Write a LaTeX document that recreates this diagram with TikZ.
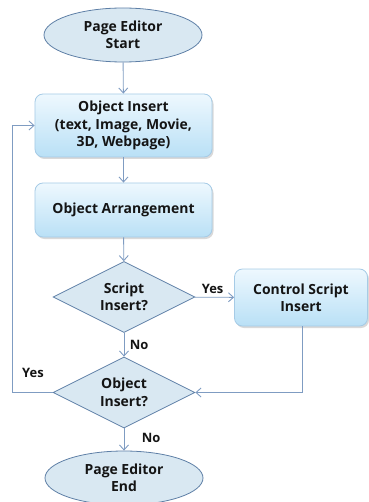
\documentclass[tikz,border=0pt]{standalone}
\usepackage{fontspec}
\setmainfont{Open Sans}
\usetikzlibrary{shapes.geometric,arrows.meta,shadows}
\definecolor{linec}{HTML}{7F9CC2}
\definecolor{shapefill}{HTML}{D9E8F2}
\definecolor{shapeborder}{HTML}{5E7FA6}
\definecolor{boxtop}{HTML}{EEF8FE}
\definecolor{boxbot}{HTML}{B9E0F6}
\definecolor{boxborder}{HTML}{A6CBE6}
\definecolor{txt}{HTML}{141414}
\tikzset{
  every node/.style={font=\bfseries\fontsize{14}{17.5}\selectfont, text=txt, align=center},
  term/.style={ellipse, draw=shapeborder, fill=shapefill, line width=0.8bp, inner sep=0pt, minimum width=158bp, minimum height=54bp},
  procbox/.style={rounded corners=8bp, draw=boxborder, line width=0.8bp, top color=boxtop, bottom color=boxbot, minimum width=177bp, inner sep=0pt, drop shadow={shadow xshift=1.5bp, shadow yshift=-2bp, fill=black!25, opacity=0.6}},
  decision/.style={diamond, draw=shapeborder, fill=shapefill, line width=0.8bp, inner sep=0pt, minimum width=142bp, minimum height=71bp, aspect=2},
  conn/.style={draw=linec, line width=0.9bp, -{Straight Barb[length=5bp,width=9bp]}},
  lbl/.style={font=\bfseries\fontsize{13}{14}\selectfont}
}
\begin{document}
\begin{tikzpicture}[x=1bp,y=-1bp]
\useasboundingbox (0,0) rectangle (368,502);
\node[term] (start) at (123,35) {Page Editor\\Start};
\node[procbox, minimum height=63bp] (ins) at (123.5,125.5) {Object Insert\\(text, Image, Movie,\\3D, Webpage)};
\node[procbox, minimum height=54bp] (arr) at (123.5,210) {Object Arrangement};
\node[decision] (sd) at (124,297) {Script\\Insert?};
\node[procbox, minimum width=133bp, minimum height=57bp] (cs) at (301,297.5) {Control Script\\Insert};
\node[decision] (od) at (124,392.5) {Object\\Insert?};
\node[term] (end) at (124,478) {Page Editor\\End};
\coordinate (lc) at (12,392.5);
\coordinate (rc) at (302,392.5);
\draw[conn] (start) -- (ins);
\draw[conn] (ins) -- (arr);
\draw[conn] (arr) -- (sd);
\draw[conn] (sd) -- node[lbl, above, pos=0.45] {Yes} (cs);
\draw[conn] (sd) -- node[lbl, right, xshift=2bp, pos=0.5] {No} (od);
\draw[conn] (od) -- node[lbl, right, xshift=14bp, pos=0.45] {No} (end);
\draw[conn] (od.west) -- (lc) |- (ins.west);
\draw[conn] (cs.south -| rc) -- (rc) -- (od.east);
\node[lbl] (yes2) at (33,373) {Yes};
\end{tikzpicture}
\end{document}
